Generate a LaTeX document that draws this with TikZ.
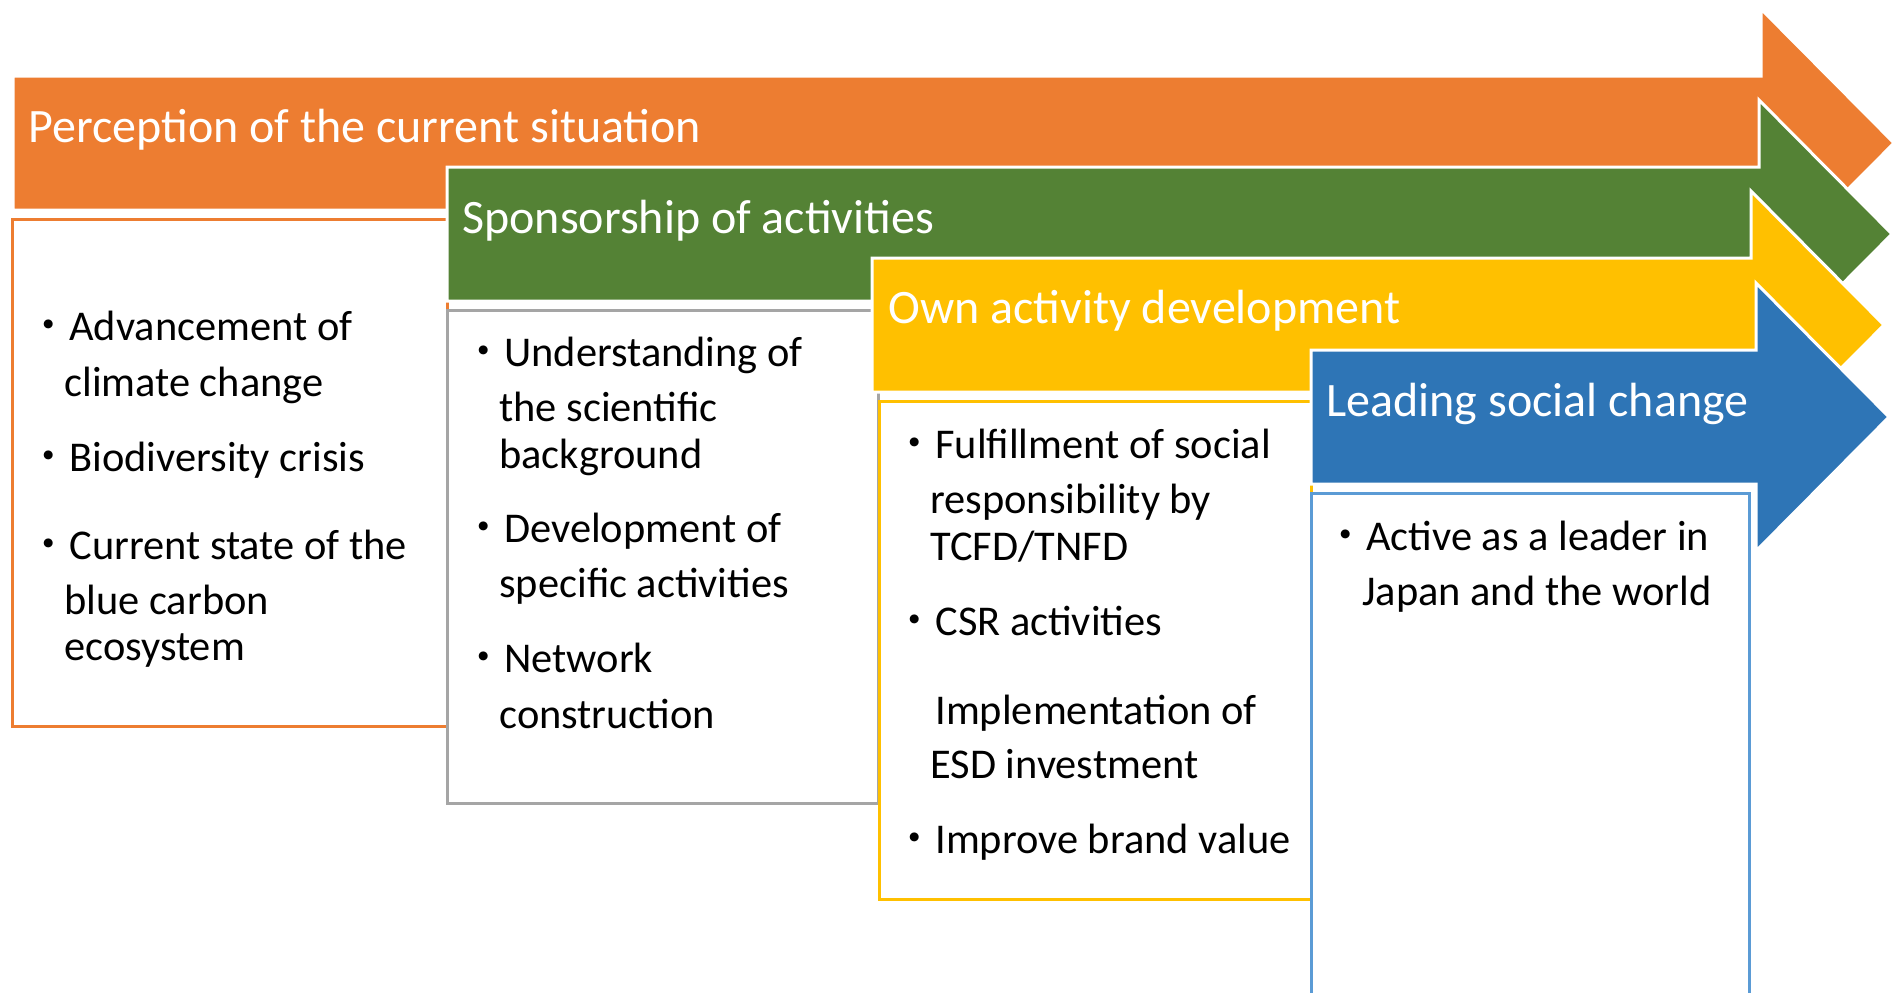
\documentclass[tikz,border=0pt]{standalone}
\usepackage{fontspec}
\setmainfont{Carlito}
\newfontfamily\cjk{Noto Sans CJK JP}
\usepackage{tikz}
\usetikzlibrary{positioning}
\definecolor{perc}{HTML}{ED7D31}
\definecolor{spons}{HTML}{548235}
\definecolor{own}{HTML}{FFC000}
\definecolor{lead}{HTML}{2E75B6}
\definecolor{leadl}{HTML}{5B9BD5}
\definecolor{grayl}{HTML}{A5A5A5}
\tikzset{
  ttl/.style={anchor=base west,text=white,inner sep=0pt,font=\fontsize{24}{28}\selectfont},
  itm/.style={anchor=base west,inner sep=0pt,font=\fontsize{21.2}{25}\selectfont},
  card/.style={draw=#1,line width=1.5pt,fill=white}
}
\newcommand{\bul}{\llap{\cjk ・}}
\newcommand{\stage}[4]{\fill[#4,draw=white,line width=1.5pt] (#1,#2-67)--(#3,#2-67)--(#3,#2-134)--(#3+133,#2)
  --(#3,#2+134)--(#3,#2+67)--(#1,#2+67)--cycle;}
\begin{document}
\begin{tikzpicture}[x=0.5pt,y=-0.5pt]
\clip (0,0) rectangle (1894,992);
\stage{13}{143}{1761}{perc}
\node[ttl] (t1) at (28,142) {Perception of the current situation};
\draw[card=perc] (12,219) rectangle (447,726);
\foreach \n/\x/\y/\s in {1/69/340/{\bul Advancement of},2/64/396/{climate change},3/69/471/{\bul Biodiversity crisis},
  4/69/559/{\bul Current state of the},5/64/614/{blue carbon},6/64/660/{ecosystem}}
  \node[itm] (p\n) at (\x,\y) {\s};
\stage{447}{234}{1759}{spons}
\node[ttl] (t2) at (462,233) {Sponsorship of activities};
\draw[card=grayl] (447,310) rectangle (878,803);
\foreach \n/\x/\y/\s in {1/504/366/{\bul Understanding of},2/499/421/{the scientific},3/499/468/{background},
  4/504/542/{\bul Development of},5/499/597/{specific activities},6/504/672/{\bul Network},7/499/728/{construction}}
  \node[itm] (s\n) at (\x,\y) {\s};
\stage{872}{325}{1751}{own}
\node[ttl] (t3) at (888,323) {Own activity development};
\draw[card=own] (879,401) rectangle (1311,899);
\foreach \n/\x/\y/\s in {1/935/458/{\bul Fulfillment of social},2/930/513/{responsibility by},3/930/560/{TCFD/TNFD},
  4/935/635/{\bul CSR activities},5/935/724/{Implementation of},6/930/778/{ESD investment},7/935/853/{\bul Improve brand value}}
  \node[itm] (o\n) at (\x,\y) {\s};
\stage{1311}{417}{1756}{lead}
\node[ttl] (t4) at (1326,416) {Leading social change};
\draw[card=leadl] (1311,493) rectangle (1749,1010);
\foreach \n/\x/\y/\s in {1/1366/550/{\bul Active as a leader in},2/1362/605/{Japan and the world}}
  \node[itm] (l\n) at (\x,\y) {\s};
\end{tikzpicture}
\end{document}
